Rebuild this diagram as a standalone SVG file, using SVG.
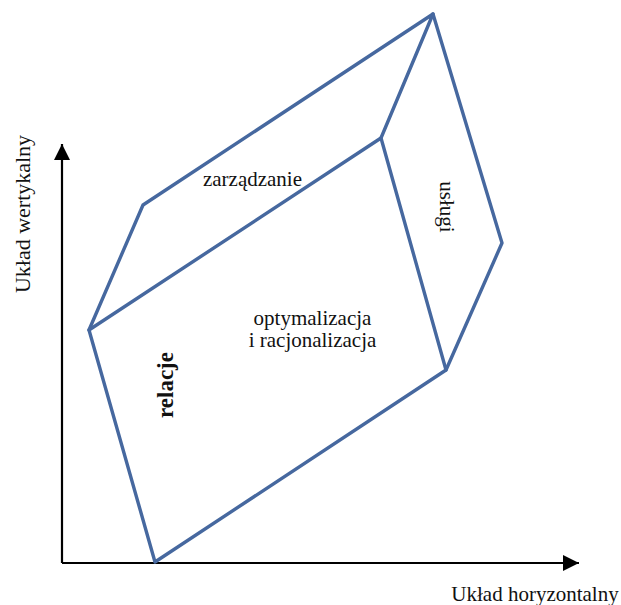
<svg xmlns="http://www.w3.org/2000/svg" width="621" height="605" viewBox="0 0 621 605">
<style>
.ax{stroke:#000;stroke-width:2.2;fill:none}
.box{stroke:#46689f;stroke-width:3.4;fill:none;stroke-linejoin:round;stroke-linecap:round}
text{font-family:"Liberation Serif","Times New Roman",serif;fill:#111}
</style>
<defs>
<marker id="arr" viewBox="0 0 10 10" refX="10" refY="5" markerWidth="16" markerHeight="16" markerUnits="userSpaceOnUse" orient="auto">
<path d="M0,0 L10,5 L0,10 Z" fill="#000"/>
</marker>
</defs>
<g id="connectors">
<path class="ax" d="M62,563 L62,144" marker-end="url(#arr)"/>
<path class="ax" d="M62,563 L579,563" marker-end="url(#arr)"/>
</g>
<g id="box">
<path class="box" d="M89,330 L381,138 L446,370 L155,562 Z"/>
<path class="box" d="M89,330 L143,205 L433,14 L381,138"/>
<path class="box" d="M433,14 L502,243 L446,370"/>
</g>
<g id="labels">
<text x="252.5" y="186" font-size="21" text-anchor="middle">zarządzanie</text>
<text x="312.5" y="325" font-size="21" text-anchor="middle">optymalizacja</text>
<text x="312.5" y="347" font-size="21" text-anchor="middle">i racjonalizacja</text>
<text transform="translate(173,385) rotate(-90)" font-size="23" font-weight="bold" text-anchor="middle">relacje</text>
<text transform="translate(440,207) rotate(90)" font-size="21" text-anchor="middle">usługi</text>
<text transform="translate(30,214) rotate(-90)" font-size="22" text-anchor="middle">Układ wertykalny</text>
<text x="535" y="601" font-size="21" text-anchor="middle">Układ horyzontalny</text>
</g>
</svg>
